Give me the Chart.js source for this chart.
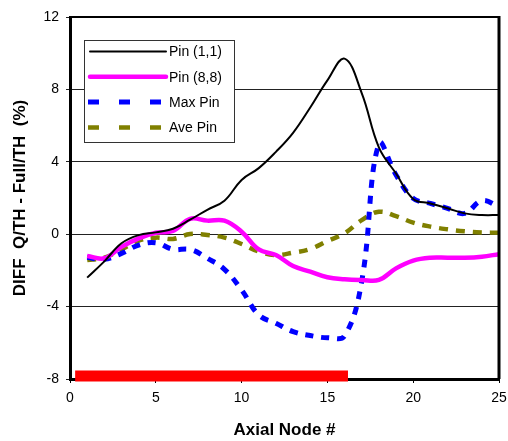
<!DOCTYPE html>
<html>
<head>
<meta charset="utf-8">
<script src="https://cdn.jsdelivr.net/npm/chart.js@4/dist/chart.umd.min.js"></script>
<style>
  body { margin: 0; background: #fff; }
  #wrap { width: 508px; height: 441px; position: relative; }
</style>
</head>
<body>
<div id="wrap"><canvas id="myChart"></canvas></div>
<script>
"use strict";

// data
const nodes = [1, 2, 3, 4, 5, 6, 7, 8, 9, 10, 11, 12, 13, 14, 15, 16, 17, 18, 19, 20, 21, 22, 23, 24, 25];
const pin11 = [-2.4, -1.5, -0.5, -0.05, 0.1, 0.3, 0.8, 1.35, 1.85, 3.0, 3.65, 4.55, 5.6, 7.0, 8.5, 9.7, 7.8, 4.8, 3.35, 1.95, 1.7, 1.43, 1.15, 1.06, 1.06];
const pin88 = [-1.2, -1.33, -0.7, -0.23, 0.08, 0.18, 0.85, 0.75, 0.75, 0.14, -0.84, -1.15, -1.76, -2.07, -2.38, -2.49, -2.53, -2.53, -1.89, -1.46, -1.3, -1.3, -1.3, -1.24, -1.1];
const maxPin = [-1.28, -1.39, -1.06, -0.6, -0.47, -0.84, -0.84, -1.33, -1.94, -3.08, -4.46, -4.92, -5.38, -5.6, -5.72, -5.62, -2.6, 5.0, 3.27, 1.98, 1.7, 1.43, 1.15, 1.85, 1.52];
const avePin = [-1.43, -1.3, -0.84, -0.36, -0.19, -0.26, 0.01, -0.04, -0.19, -0.54, -0.96, -1.15, -1.02, -0.82, -0.38, 0.05, 0.78, 1.24, 1.0, 0.64, 0.42, 0.27, 0.16, 0.1, 0.08];

// red bar along the bottom
const barX = [0.3, 16.2];
const barY = -7.83;

const seriesNames = ["Pin (1,1)", "Pin (8,8)", "Max Pin", "Ave Pin"];

function pts(vals) {
  return vals.map((v, i) => ({ x: nodes[i], y: v }));
}

// legend drawn inside the plot
const boxLegend = {
  id: "boxLegend",
  afterDatasetsDraw(chart, args, opts) {
    const ctx = chart.ctx;
    ctx.save();
    ctx.fillStyle = "#fff";
    ctx.fillRect(opts.x, opts.y, opts.w, opts.h);
    ctx.strokeStyle = "#333";
    ctx.lineWidth = 1;
    ctx.strokeRect(opts.x + 0.5, opts.y + 0.5, opts.w, opts.h);
    ctx.font = "14px 'Liberation Sans', Arial, sans-serif";
    ctx.textBaseline = "middle";
    let row = 0;
    chart.data.datasets.forEach((ds) => {
      if (!ds.inLegend) return;
      const y = opts.y + 11.5 + row * 25.3;
      ctx.beginPath();
      ctx.strokeStyle = ds.borderColor;
      ctx.lineWidth = ds.borderWidth;
      if (ds.borderDash.length) {
        ctx.setLineDash([11, 20]);
        ctx.lineCap = "butt";
        ctx.moveTo(opts.x + 4, y);
        ctx.lineTo(opts.x + 78, y);
      } else {
        ctx.setLineDash([]);
        ctx.lineCap = "round";
        ctx.moveTo(opts.x + 6, y);
        ctx.lineTo(opts.x + 82, y);
      }
      ctx.stroke();
      ctx.fillStyle = "#000";
      ctx.fillText(ds.label, opts.x + 85, y + 1);
      row++;
    });
    ctx.restore();
  },
};

// top and right frame lines
const frame = {
  id: "frame",
  afterDraw(chart) {
    const { ctx, chartArea } = chart;
    ctx.save();
    ctx.strokeStyle = "#000";
    ctx.lineWidth = 2;
    ctx.beginPath();
    ctx.moveTo(chartArea.left, chartArea.top);
    ctx.lineTo(chartArea.right + 1, chartArea.top);
    ctx.stroke();
    ctx.lineWidth = 3;
    ctx.beginPath();
    ctx.moveTo(chartArea.right, chartArea.top - 1);
    ctx.lineTo(chartArea.right, chartArea.bottom);
    ctx.stroke();
    ctx.restore();
  },
};

const tickFont = { family: "'Liberation Sans', Arial, sans-serif", size: 14 };
const titleFont = { family: "'Liberation Sans', Arial, sans-serif", size: 17, weight: "bold" };

const ctx = document.getElementById("myChart").getContext("2d");
const myChart = new Chart(ctx, {
  type: "line",
  data: {
    datasets: [
      {
        label: seriesNames[0],
        data: pts(pin11),
        borderColor: "#000000",
        borderWidth: 2,
        borderDash: [],
        tension: 0.4,
        inLegend: true,
      },
      {
        label: seriesNames[1],
        data: pts(pin88),
        borderColor: "#FF00FF",
        borderWidth: 4.5,
        borderDash: [],
        tension: 0.4,
        inLegend: true,
      },
      {
        label: seriesNames[2],
        data: pts(maxPin),
        borderColor: "#0000FF",
        borderWidth: 5,
        borderDash: [8, 8],
        tension: 0.4,
        inLegend: true,
      },
      {
        label: seriesNames[3],
        data: pts(avePin),
        borderColor: "#808000",
        borderWidth: 4.5,
        borderDash: [9, 8],
        tension: 0.4,
        inLegend: true,
      },
      {
        label: "bar",
        data: barX.map((x) => ({ x: x, y: barY })),
        borderColor: "#FF0000",
        borderWidth: 11,
        borderDash: [],
        borderCapStyle: "butt",
        clip: false,
        inLegend: false,
      },
    ],
  },
  options: {
    responsive: true,
    maintainAspectRatio: false,
    animation: false,
    elements: { point: { radius: 0 } },
    layout: { padding: { top: 17, right: 9, left: 0, bottom: 0 } },
    plugins: {
      legend: { display: false },
      tooltip: { enabled: false },
      boxLegend: { x: 84, y: 40, w: 150, h: 102 },
    },
    scales: {
      x: {
        type: "linear",
        min: 0,
        max: 25,
        ticks: { stepSize: 5, font: tickFont, color: "#000", padding: 7, maxRotation: 0 },
        grid: { drawOnChartArea: false, drawTicks: true, tickLength: 4, color: "#000" },
        border: { width: 3, color: "#000" },
        title: { display: true, text: "Axial Node #", font: titleFont, color: "#000", padding: { top: 0, bottom: 0 } },
        afterFit: (s) => {
          s.height = 62;
          s.paddingLeft = 0;
          s.paddingRight = 0;
        },
      },
      y: {
        min: -8,
        max: 12,
        ticks: { stepSize: 4, font: tickFont, color: "#000", padding: 7 },
        grid: { color: "#222", lineWidth: 1, tickLength: 4 },
        border: { width: 3, color: "#000" },
        title: { display: true, text: "DIFF  Q/TH - Full/TH  (%)", font: titleFont, color: "#000", padding: { top: 10, bottom: 0 } },
        afterFit: (s) => {
          s.width = 70;
          s.paddingTop = 0;
          s.paddingBottom = 0;
        },
      },
    },
  },
  plugins: [boxLegend, frame],
});
</script>
</body>
</html>
